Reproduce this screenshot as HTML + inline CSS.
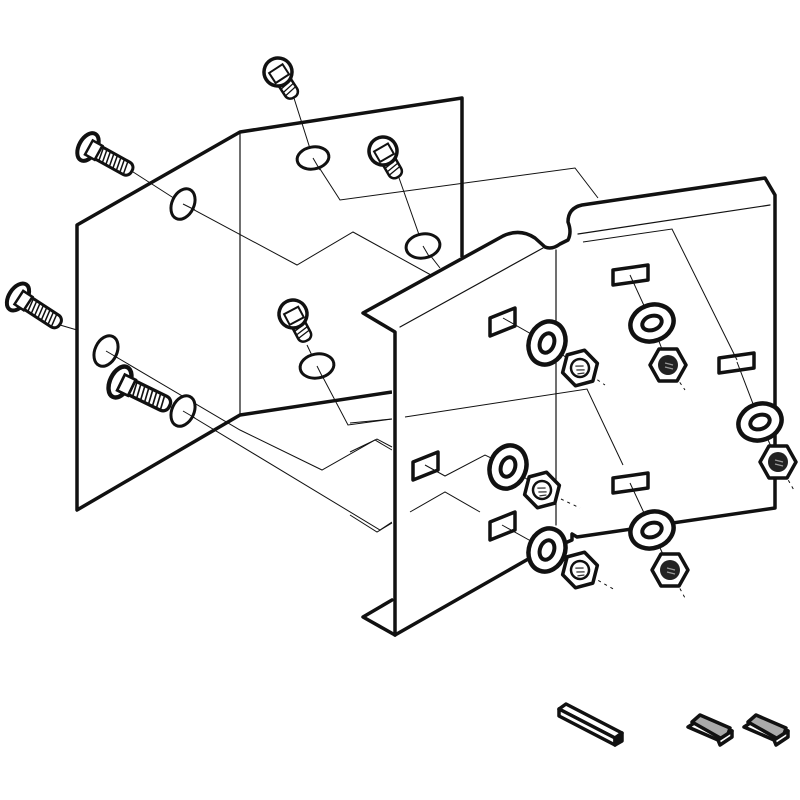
<!DOCTYPE html>
<html><head><meta charset="utf-8"><style>html,body{margin:0;padding:0;background:#fff}svg{display:block}</style></head>
<body>
<svg width="800" height="800" viewBox="0 0 800 800" xmlns="http://www.w3.org/2000/svg">
<defs>
  <g id="boltL">
    <rect x="6" y="-7" width="44" height="14" rx="6" fill="#fff" stroke="#111" stroke-width="3"/>
    <g stroke="#111" stroke-width="1.5">
      <line x1="14" y1="-6" x2="16" y2="6"/><line x1="18" y1="-6" x2="20" y2="6"/><line x1="22" y1="-6" x2="24" y2="6"/>
      <line x1="26" y1="-6" x2="28" y2="6"/><line x1="30" y1="-6" x2="32" y2="6"/><line x1="34" y1="-6" x2="36" y2="6"/>
      <line x1="38" y1="-6" x2="40" y2="6"/><line x1="42" y1="-6" x2="44" y2="6"/>
    </g>
    <ellipse cx="0" cy="0" rx="9" ry="15" fill="#fff" stroke="#111" stroke-width="4"/>
    <rect x="1" y="-8" width="11" height="16" fill="#fff" stroke="#111" stroke-width="2.5"/>
  </g>
  <g id="boltS">
    <rect x="4" y="-7" width="26" height="14" rx="6" fill="#fff" stroke="#111" stroke-width="2.5"/>
    <g stroke="#111" stroke-width="1.3">
      <line x1="10" y1="-6" x2="12" y2="6"/><line x1="14" y1="-6" x2="16" y2="6"/><line x1="18" y1="-6" x2="20" y2="6"/><line x1="22" y1="-6" x2="24" y2="6"/>
    </g>
    <circle cx="0" cy="0" r="14" fill="#fff" stroke="#111" stroke-width="3.5"/>
    <rect x="-4" y="-8" width="12" height="16" fill="#fff" stroke="#111" stroke-width="2"/>
  </g>
  <g id="washer">
    <ellipse rx="18" ry="22" fill="#fff" stroke="#111" stroke-width="4.5"/>
    <ellipse rx="7" ry="10" fill="#fff" stroke="#111" stroke-width="4"/>
  </g>
  <g id="nut">
    <polygon points="18,0 9,-16 -9,-16 -18,0 -9,16 9,16" fill="#fff" stroke="#111" stroke-width="3.5" stroke-linejoin="round"/>
    <circle r="9" fill="#fff" stroke="#111" stroke-width="2.5"/>
    <g stroke="#333" stroke-width="1.3"><line x1="-4" y1="-3" x2="4" y2="-1"/><line x1="-4" y1="1" x2="4" y2="3"/><line x1="-4" y1="5" x2="3" y2="6"/></g>
  </g>
  <g id="nutD">
    <polygon points="18,0 9,-16 -9,-16 -18,0 -9,16 9,16" fill="#fff" stroke="#111" stroke-width="3.5" stroke-linejoin="round"/>
    <circle r="10" fill="#222"/>
    <g stroke="#999" stroke-width="1.2"><line x1="-3" y1="-2" x2="5" y2="0"/><line x1="-3" y1="2" x2="5" y2="4"/></g>
  </g>
</defs>

<g fill="none" stroke="#111" stroke-width="1">
  <polyline points="293,95 313,158 340,200 575,168 598,198"/>
  <polyline points="130,170 183,204 297,265 353,232 440,280"/>
  <polyline points="398,175 423,246 440,268"/>
  <polyline points="60,325 77,330"/>
  <polyline points="106,351 240,430 322,470 375,440 392,450"/>
  <polyline points="183,411 380,530 392,522"/>
  <polyline points="307,345 317,366 348,425 392,419"/>
  <polyline points="165,405 183,411"/>
</g>

<g fill="none" stroke="#111" stroke-linejoin="round">
  <polyline points="392,392 240,415 77,510 77,225 240,132 462,98 462,257" stroke-width="3.5"/>
  <line x1="240" y1="132" x2="240" y2="415" stroke-width="1.2"/>
</g>
<g fill="#fff" stroke="#111" stroke-width="3">
  <ellipse cx="313" cy="158" rx="16" ry="11" transform="rotate(-10 313 158)"/>
  <ellipse cx="183" cy="204" rx="11" ry="16" transform="rotate(25 183 204)"/>
  <ellipse cx="423" cy="246" rx="17" ry="12" transform="rotate(-10 423 246)"/>
  <ellipse cx="106" cy="351" rx="11" ry="16" transform="rotate(25 106 351)"/>
  <ellipse cx="317" cy="366" rx="17" ry="12" transform="rotate(-10 317 366)"/>
  <ellipse cx="183" cy="411" rx="11" ry="16" transform="rotate(25 183 411)"/>
</g>
<g fill="none" stroke="#111" stroke-width="1">
  <line x1="313" y1="158" x2="320" y2="170"/><line x1="183" y1="204" x2="195" y2="210"/>
  <line x1="423" y1="246" x2="430" y2="258"/><line x1="106" y1="351" x2="118" y2="358"/>
  <line x1="317" y1="366" x2="323" y2="378"/><line x1="183" y1="411" x2="195" y2="418"/>
</g>

<use href="#boltL" transform="translate(88,147) rotate(29)"/>
<use href="#boltL" transform="translate(18,297) rotate(33)"/>
<use href="#boltL" transform="translate(120,382) rotate(26) scale(1.1)"/>
<use href="#boltS" transform="translate(278,72) rotate(57)"/>
<use href="#boltS" transform="translate(383,151) rotate(60)"/>
<use href="#boltS" transform="translate(293,314) rotate(62)"/>

<path d="M363,313 L503,236 Q520,228 535,238 L545,247 Q552,250 560,244 L568,240 Q572,232 568,222 Q568,208 582,205 L765,178 L775,195 L775,508 L577,537 L530,558 L395,635 L363,617 L392,600 L392,335 Z" fill="#fff" stroke="none"/>
<g fill="none" stroke="#111" stroke-linejoin="round" stroke-linecap="round">
  <path d="M395,635 L363,617 L392,600" stroke-width="3.5"/>
  <path d="M395,635 L395,332 L363,313 L503,236 Q520,228 535,238 L545,247 Q552,250 560,244 L568,240 Q572,232 568,222 Q568,208 582,205 L765,178 L775,195 L775,508 L577,537 L572,534 L572,540 L530,558 L395,635" stroke-width="3.5"/>
  <line x1="400" y1="327" x2="543" y2="248" stroke-width="1.2"/>
  <line x1="556" y1="250" x2="556" y2="525" stroke-width="1.2"/>
  <line x1="578" y1="234" x2="770" y2="205" stroke-width="1.2"/>
</g>
<g fill="none" stroke="#111" stroke-width="1">
  <polyline points="350,423 392,419"/>
  <polyline points="350,452 377,439 392,447"/>
  <polyline points="350,515 377,532 392,523"/>
  <polyline points="405,417 587,389 623,465"/>
  <polyline points="410,512 445,492 480,512"/>
  <polyline points="583,242 672,229 737,360"/>
  <polyline points="425,465 445,476 485,455 510,467"/>
  <polyline points="503,318 547,343 580,368"/>
  <polyline points="630,275 652,323 668,365"/>
  <polyline points="737,362 760,422 778,462"/>
  <polyline points="502,525 547,550 580,570"/>
  <polyline points="630,483 652,530 670,570"/>
  <polyline points="510,467 542,490"/>
</g>
<g fill="none" stroke="#111" stroke-width="1" stroke-dasharray="3,4">
  <line x1="580" y1="368" x2="605" y2="385"/>
  <line x1="668" y1="365" x2="685" y2="390"/>
  <line x1="778" y1="462" x2="795" y2="492"/>
  <line x1="542" y1="490" x2="580" y2="508"/>
  <line x1="580" y1="570" x2="615" y2="590"/>
  <line x1="670" y1="570" x2="685" y2="598"/>
</g>
<g fill="none" stroke="#111" stroke-width="3.5" stroke-linejoin="round">
  <polygon points="490,318 515,308 515,326 490,336"/>
  <polygon points="613,270 648,265 648,280 613,285"/>
  <polygon points="719,358 754,353 754,368 719,373"/>
  <polygon points="413,462 438,452 438,470 413,480"/>
  <polygon points="490,522 515,512 515,530 490,540"/>
  <polygon points="613,478 648,473 648,488 613,493"/>
</g>
<use href="#washer" transform="translate(547,343) rotate(20)"/>
<use href="#washer" transform="translate(652,323) rotate(70)"/>
<use href="#washer" transform="translate(760,422) rotate(70)"/>
<use href="#washer" transform="translate(508,467) rotate(20)"/>
<use href="#washer" transform="translate(547,550) rotate(20)"/>
<use href="#washer" transform="translate(652,530) rotate(70)"/>
<use href="#nut" transform="translate(580,368) rotate(-15)"/>
<use href="#nutD" transform="translate(668,365)"/>
<use href="#nutD" transform="translate(778,462)"/>
<use href="#nut" transform="translate(542,490) rotate(-15)"/>
<use href="#nut" transform="translate(580,570) rotate(-15)"/>
<use href="#nutD" transform="translate(670,570)"/>

<g stroke="#111" stroke-width="3.5" stroke-linejoin="round">
  <polygon points="559,709 566,704 622,733 615,738" fill="#fff"/>
  <polygon points="559,709 559,716 615,745 615,738" fill="#fff"/>
  <polygon points="615,738 622,733 622,741 615,745" fill="#111"/>
  <polygon points="688,727 702,718 732,731 718,740" fill="#fff"/>
  <polygon points="692,722 700,715 730,728 727,737 722,739" fill="#aaa"/>
  <polygon points="718,740 732,731 732,737 720,745" fill="#fff"/>
  <polygon points="744,727 758,718 788,731 774,740" fill="#fff"/>
  <polygon points="748,722 756,715 786,728 783,737 778,739" fill="#aaa"/>
  <polygon points="774,740 788,731 788,737 776,745" fill="#fff"/>
</g>
</svg>
</body></html>
